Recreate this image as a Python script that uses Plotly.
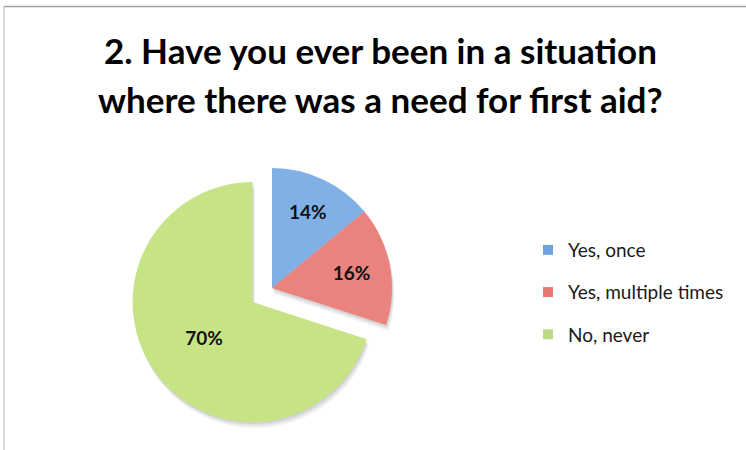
import plotly.graph_objects as go

# Survey answers
labels = ["Yes, once", "Yes, multiple times", "No, never"]
values = [14, 16, 70]
colors = ["#80B0E6", "#EA827D", "#C6E385"]
legend_colors = ["#6FA2DE", "#E57873", "#BCDA86"]
pulls = [0, 0, 0.2]

title_lines = ["2. Have you ever been in a situation",
               "where there was a need for first aid?"]

W, H = 746, 450
FONT = "Lato, 'Open Sans', sans-serif"

def px_x(x):
    return x / W

def px_y(y):
    return 1 - y / H

def pie_domain(dx=0.0, dy=0.0):
    return dict(x=[px_x(128 + dx), px_x(416 + dx)],
                y=[px_y(432 + dy), px_y(144 + dy)])

fig = go.Figure()

# soft drop shadow: faint grey copies of the pie, nudged down
for off, alpha in [(6, 0.05), (4, 0.06), (2, 0.07)]:
    fig.add_trace(go.Pie(
        labels=labels, values=values, sort=False, direction="clockwise",
        rotation=0, pull=pulls,
        marker=dict(colors=[f"rgba(0,0,0,{alpha})"] * len(values),
                    line=dict(width=0)),
        textinfo="none", hoverinfo="skip", showlegend=False,
        domain=pie_domain(off * 0.4, off),
    ))

fig.add_trace(go.Pie(
    labels=labels,
    values=values,
    sort=False,
    direction="clockwise",
    rotation=0,
    pull=pulls,
    marker=dict(colors=colors, line=dict(width=0)),
    texttemplate="<b>%{percent:.0%}</b>",
    textposition="inside",
    insidetextorientation="horizontal",
    textfont=dict(family=FONT, size=19, color="#111111"),
    showlegend=False,
    hoverinfo="label+percent",
    domain=pie_domain(),
))

# legend entries, one group each so the gap between rows can be set
for i, (lab, col) in enumerate(zip(labels, legend_colors)):
    fig.add_trace(go.Scatter(
        x=[None], y=[None], mode="markers", name=lab,
        marker=dict(symbol="square", size=10, color=col),
        legendgroup=f"g{i}", showlegend=True,
    ))

annotations = [
    dict(text=f"<b>{line}</b>", xref="paper", yref="paper",
         x=px_x(380), y=px_y(yc), xanchor="center", yanchor="middle",
         showarrow=False, font=dict(family=FONT, size=35, color="#000000"))
    for line, yc in zip(title_lines, [50, 99])
]

fig.update_layout(
    width=W, height=H,
    margin=dict(l=0, r=0, t=0, b=0),
    paper_bgcolor="white",
    plot_bgcolor="white",
    xaxis=dict(visible=False),
    yaxis=dict(visible=False),
    annotations=annotations,
    legend=dict(
        x=px_x(528), xanchor="left",
        y=px_y(231), yanchor="top",
        font=dict(family=FONT, size=19, color="#1a1a1a"),
        tracegroupgap=14.5,
        bgcolor="rgba(0,0,0,0)",
    ),
    shapes=[
        dict(type="line", xref="paper", yref="paper",
             x0=px_x(4), x1=1, y0=px_y(6.5), y1=px_y(6.5),
             line=dict(color="#A0A0A0", width=1.5)),
        dict(type="line", xref="paper", yref="paper",
             x0=px_x(4), x1=px_x(4), y0=0, y1=px_y(6.5),
             line=dict(color="#B0B0B0", width=1)),
    ],
)

fig.write_html("out.html")
